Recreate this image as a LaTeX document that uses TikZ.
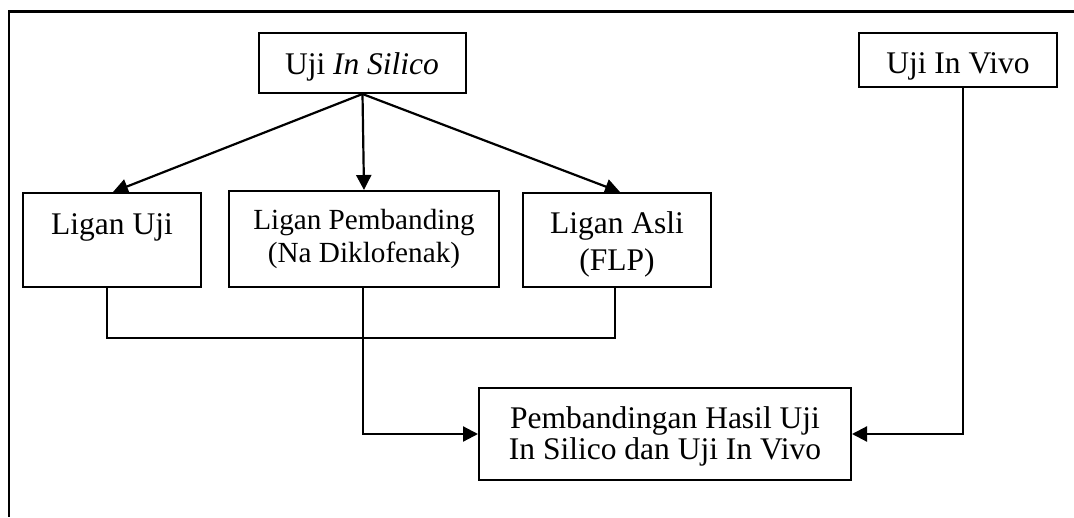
\documentclass[tikz,border=0pt]{standalone}
\usepackage{fontspec}
\setmainfont{Liberation Serif}
\usetikzlibrary{arrows.meta}
\newcommand\bigsize{\fontsize{31.5}{36}\selectfont}
\newcommand\midsize{\fontsize{29.2}{33}\selectfont}
\begin{document}
\begin{tikzpicture}[x=1pt,y=-1pt,
  box/.style={draw, line width=2pt, inner sep=0pt},
  txt/.style={anchor=base, inner sep=0pt, font=\bigsize},
  txtm/.style={anchor=base, inner sep=0pt, font=\midsize},
  link/.style={line width=2.2pt},
  flow/.style={link, -{Triangle[length=15pt,width=15pt]}}]
\useasboundingbox (0,0) rectangle (1074,517);

% outer frame (top and left edges)
\draw[line width=2.2pt] (8,11.5) -- (1074,11.5);
\draw[line width=2.8pt] (9,11) -- (9,517);

% boxes
\node[box, minimum width=207pt, minimum height=60pt] (sil) at (362.5,63) {};
\node[box, minimum width=198pt, minimum height=54pt] (viv) at (958,60) {};
\node[box, minimum width=178pt, minimum height=94pt] (lu) at (112,240) {};
\node[box, minimum width=270pt, minimum height=96pt] (lp) at (364,239) {};
\node[box, minimum width=188pt, minimum height=94pt] (la) at (617,240) {};
\node[box, minimum width=372pt, minimum height=92pt] (pb) at (665,434) {};

% labels
\node[txt] (silt) at (362,74) {Uji \textit{In Silico}};
\node[txt] (vivt) at (958,73) {Uji In Vivo};
\node[txt] (lut) at (112,234) {Ligan Uji};
\node[txtm] (lpt1) at (364,229) {Ligan Pembanding};
\node[txtm] (lpt2) at (364,262) {(Na Diklofenak)};
\node[txt] (lat1) at (617,233) {Ligan Asli};
\node[txt] (lat2) at (617,270) {(FLP)};
\node[txt] (pbt1) at (665,428) {Pembandingan Hasil Uji};
\node[txt] (pbt2) at (665,459) {In Silico dan Uji In Vivo};

% branches from the in silico box
\draw[flow] (sil.south) -- ([xshift=1pt]lu.north);
\draw[flow] (sil.south) -- (lp.north);
\draw[flow] (sil.south) -- ([xshift=3pt]la.north);

% joint line under the ligand boxes
\draw[link] ([xshift=-5pt]lu.south) -- ++(0,50) -| ([xshift=-2pt]la.south);

% paths into the comparison box
\draw[flow] ([xshift=-1pt]lp.south) |- (pb.west);
\draw[flow] ([xshift=5pt]viv.south) |- (pb.east);
\end{tikzpicture}
\end{document}
